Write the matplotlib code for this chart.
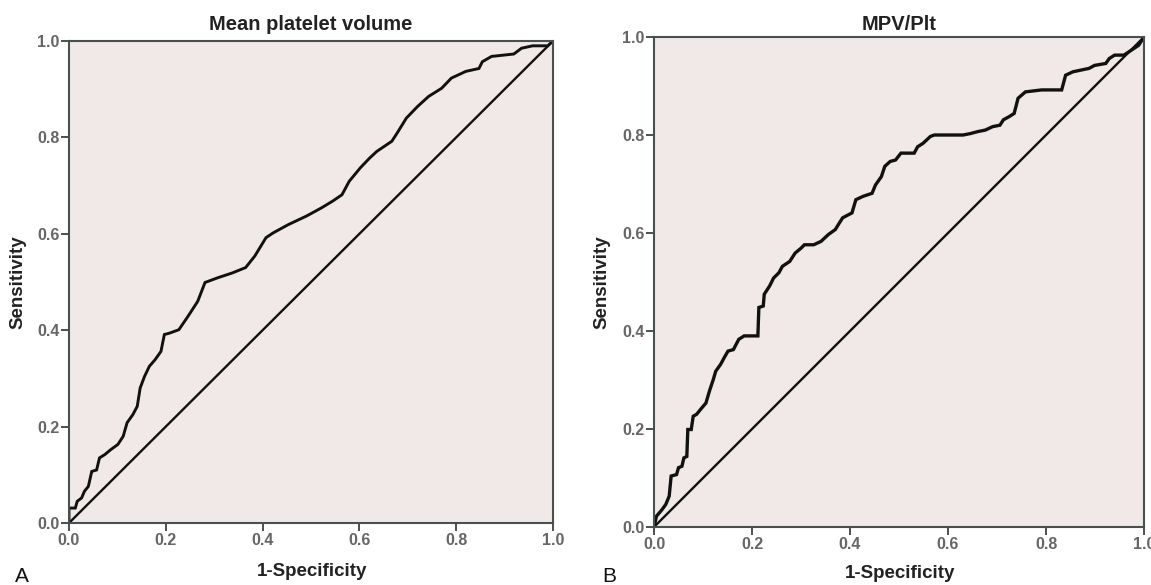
import matplotlib
matplotlib.use("Agg")
import matplotlib.pyplot as plt

plt.rcParams['font.family'] = ['Liberation Sans', 'DejaVu Sans']

# ROC curve for mean platelet volume (panel A)
mpv_fpr = [0.0, 0.0, 0.013, 0.017, 0.026, 0.032, 0.04, 0.047, 0.057, 0.063, 0.074,
           0.086, 0.101, 0.112, 0.12, 0.132, 0.141, 0.147, 0.156, 0.166, 0.178,
           0.19, 0.197, 0.208, 0.227, 0.246, 0.266, 0.281, 0.308, 0.338, 0.365,
           0.384, 0.407, 0.422, 0.453, 0.491, 0.522, 0.545, 0.564, 0.579, 0.602,
           0.621, 0.636, 0.667, 0.678, 0.697, 0.72, 0.743, 0.77, 0.79, 0.82,
           0.847, 0.854, 0.873, 0.919, 0.935, 0.958, 0.989, 1.0]
mpv_tpr = [0.0, 0.031, 0.031, 0.045, 0.052, 0.066, 0.076, 0.107, 0.11, 0.135, 0.142,
           0.152, 0.163, 0.18, 0.208, 0.225, 0.242, 0.28, 0.304, 0.325, 0.339,
           0.356, 0.391, 0.394, 0.401, 0.429, 0.46, 0.499, 0.509, 0.519, 0.53,
           0.554, 0.592, 0.602, 0.619, 0.637, 0.654, 0.668, 0.681, 0.709, 0.737,
           0.757, 0.771, 0.792, 0.809, 0.84, 0.864, 0.885, 0.902, 0.923, 0.937,
           0.943, 0.957, 0.968, 0.973, 0.985, 0.99, 0.99, 1.0]

# ROC curve for MPV/Plt (panel B)
ratio_fpr = [0.0, 0.005, 0.016, 0.024, 0.031, 0.035, 0.046, 0.05, 0.057, 0.061,
             0.067, 0.069, 0.076, 0.08, 0.087, 0.095, 0.106, 0.113, 0.121, 0.126,
             0.136, 0.143, 0.151, 0.162, 0.173, 0.184, 0.212, 0.214, 0.223, 0.225,
             0.236, 0.244, 0.255, 0.262, 0.277, 0.288, 0.3, 0.307, 0.326, 0.341,
             0.356, 0.37, 0.378, 0.385, 0.404, 0.412, 0.427, 0.445, 0.452, 0.464,
             0.471, 0.482, 0.493, 0.504, 0.531, 0.538, 0.549, 0.564, 0.572, 0.631,
             0.646, 0.661, 0.676, 0.691, 0.706, 0.713, 0.724, 0.735, 0.743, 0.758,
             0.791, 0.832, 0.84, 0.855, 0.888, 0.899, 0.922, 0.929, 0.94, 0.959,
             0.974, 0.989, 1.0]
ratio_tpr = [0.0, 0.022, 0.035, 0.046, 0.063, 0.104, 0.107, 0.121, 0.124, 0.141,
             0.144, 0.199, 0.199, 0.226, 0.23, 0.24, 0.253, 0.277, 0.301, 0.318,
             0.332, 0.345, 0.359, 0.362, 0.383, 0.39, 0.39, 0.448, 0.451, 0.475,
             0.492, 0.508, 0.519, 0.532, 0.542, 0.559, 0.569, 0.576, 0.576, 0.583,
             0.597, 0.607, 0.62, 0.631, 0.641, 0.668, 0.675, 0.681, 0.698, 0.715,
             0.736, 0.746, 0.749, 0.763, 0.763, 0.776, 0.783, 0.797, 0.8, 0.8,
             0.803, 0.807, 0.81, 0.817, 0.82, 0.831, 0.837, 0.844, 0.875, 0.888,
             0.892, 0.892, 0.922, 0.929, 0.936, 0.942, 0.946, 0.956, 0.963, 0.963,
             0.973, 0.983, 1.0]

ticks = [0.0, 0.2, 0.4, 0.6, 0.8, 1.0]
tick_labels = ["0.0", "0.2", "0.4", "0.6", "0.8", "1.0"]

W, H = 1151, 585
fig = plt.figure(figsize=(W / 100, H / 100), dpi=100)


def box(x0, y0, x1, y1):
    # pixel box (top-left origin) -> figure fraction rect
    return [x0 / W, 1 - y1 / H, (x1 - x0) / W, (y1 - y0) / H]


def roc_panel(rect, fpr, tpr, title, pad, lw):
    ax = fig.add_axes(rect)
    ax.set_facecolor('#f0e9e7')
    ax.plot([0, 1], [0, 1], color='#111111', lw=1.7, solid_capstyle='round')
    ax.plot(fpr, tpr, color='#111111', lw=lw, solid_joinstyle='miter')
    ax.set_xlim(0, 1)
    ax.set_ylim(0, 1)
    ax.set_xticks(ticks)
    ax.set_xticklabels(tick_labels)
    ax.set_yticks(ticks)
    ax.set_yticklabels(tick_labels)
    ax.tick_params(direction='out', length=5.5, width=1.4, color='#4a5050',
                   labelcolor='#666666', labelsize=11.5, pad=1.5)
    for lbl in ax.get_xticklabels() + ax.get_yticklabels():
        lbl.set_fontweight('bold')
    for s in ax.spines.values():
        s.set_color('#4a5050')
        s.set_linewidth(1.5)
    ax.set_title(title, fontsize=14.5, fontweight='bold', color='#222222', pad=pad)
    return ax


roc_panel(box(69, 41, 553, 523), mpv_fpr, mpv_tpr, "Mean platelet volume", 8, 2.1)
roc_panel(box(654, 37, 1144, 527), ratio_fpr, ratio_tpr, "MPV/Plt", 5, 2.4)

lab = dict(fontsize=13.5, fontweight='bold', color='#222222', ha='center', va='center')
fig.text(312 / W, 1 - 572 / H, "1-Specificity", **lab)
fig.text(900 / W, 1 - 573 / H, "1-Specificity", **lab)
fig.text(18 / W, 1 - 282 / H, "Sensitivity", rotation=90, **lab)
fig.text(602 / W, 1 - 282 / H, "Sensitivity", rotation=90, **lab)

fig.text(22 / W, 1 - 577 / H, "A", fontsize=15, color='#111111', ha='center', va='center')
fig.text(609 / W, 1 - 576 / H, "B", fontsize=15, color='#111111', ha='center', va='center')

fig.savefig("out.png", dpi=100)
